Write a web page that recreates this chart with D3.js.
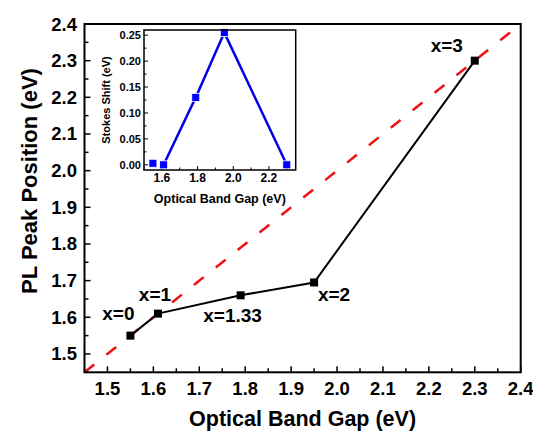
<!DOCTYPE html>
<html><head><meta charset="utf-8">
<script src="https://cdn.jsdelivr.net/npm/d3@7"></script>
<style>body{margin:0;background:#fff}text{font-family:"Liberation Sans",Arial,sans-serif;font-weight:bold}</style>
</head><body>
<svg id="c" width="533" height="432"></svg>
<script>
// main data
const bandGap = [1.55, 1.61, 1.79, 1.95, 2.30];
const plPeak = [1.55, 1.61, 1.66, 1.695, 2.30];
const labels = ["x=0", "x=1", "x=1.33", "x=2", "x=3"];
const xTicks = [1.5,1.6,1.7,1.8,1.9,2.0,2.1,2.2,2.3,2.4];
const yTicks = [1.5,1.6,1.7,1.8,1.9,2.0,2.1,2.2,2.3,2.4];
// inset data
const stokesShift = [0.003, 0.0, 0.13, 0.255, 0.0];
const insetXTicks = [1.6,1.8,2.0,2.2];
const insetYTicks = [0.00,0.05,0.10,0.15,0.20,0.25];

const svg = d3.select("#c");
const L=84.5, R=520.7, T=24, B=372.3;
const x = d3.scaleLinear().domain([1.45,2.4]).range([L,R]);
const y = d3.scaleLinear().domain([1.45,2.4]).range([B,T]);

// ticks
const g = svg.append("g");
const minorX = d3.range(1.45,2.4001,0.05);
g.selectAll(".tx").data(minorX).join("line")
  .attr("x1",d=>x(d)).attr("x2",d=>x(d)).attr("y1",B)
  .attr("y2",(d,i)=>B-(i%2===1?6:4)).attr("stroke","#000").attr("stroke-width",1.5);
g.selectAll(".ty").data(minorX).join("line")
  .attr("y1",d=>y(d)).attr("y2",d=>y(d)).attr("x1",L)
  .attr("x2",(d,i)=>L+(i%2===1?6:4)).attr("stroke","#000").attr("stroke-width",1.5);
g.selectAll(".lx").data(xTicks).join("text").attr("x",d=>x(d)).attr("y",394.5)
  .attr("text-anchor","middle").attr("font-size",18.5).text(d=>d.toFixed(1));
g.selectAll(".ly").data(yTicks).join("text").attr("x",77).attr("y",d=>y(d)+6.5)
  .attr("text-anchor","end").attr("font-size",18.5).text(d=>d.toFixed(1));

// dashed y=x
svg.append("line").attr("x1",x(1.45)).attr("y1",y(1.45)).attr("x2",x(2.4)).attr("y2",y(2.4))
  .attr("stroke","#ee1111").attr("stroke-width",2.5).attr("stroke-dasharray","12.5,15.5");

const pts = bandGap.map((d,i)=>[d,plPeak[i]]);
svg.append("path").attr("d",d3.line().x(d=>x(d[0])).y(d=>y(d[1]))(pts))
  .attr("fill","none").attr("stroke","#000").attr("stroke-width",2);
svg.selectAll(".m").data(pts).join("rect")
  .attr("x",d=>x(d[0])-4).attr("y",d=>y(d[1])-4).attr("width",8).attr("height",8).attr("fill","#000");

// point labels
const offs = [[-12,-22],[-3,-19],[-8,20],[20,12],[-28,-15]];
svg.selectAll(".pl").data(pts).join("text")
  .attr("x",(d,i)=>x(d[0])+offs[i][0]).attr("y",(d,i)=>y(d[1])+offs[i][1]+6.5)
  .attr("text-anchor","middle").attr("font-size",19).text((d,i)=>labels[i]);

// frame
svg.append("rect").attr("x",L).attr("y",T).attr("width",R-L).attr("height",B-T)
  .attr("fill","none").attr("stroke","#000").attr("stroke-width",2);

// axis titles
svg.append("text").attr("x",(L+R)/2).attr("y",426).attr("text-anchor","middle")
  .attr("font-size",21.5).text("Optical Band Gap (eV)");
svg.append("text").attr("transform","translate(37,181) rotate(-90)").attr("text-anchor","middle")
  .attr("font-size",22).text("PL Peak Position (eV)");

// inset
const iL=144, iR=295.7, iT=30, iB=170;
const ix = d3.scaleLinear().domain([1.5,2.35]).range([iL,iR]);
const iy = d3.scaleLinear().domain([-0.01,0.26]).range([iB,iT]);
svg.append("rect").attr("x",iL).attr("y",iT).attr("width",iR-iL).attr("height",iB-iT)
  .attr("fill","#fff").attr("stroke","none");
const ig = svg.append("g");
ig.selectAll(".itx").data(d3.range(1.5,2.3501,0.1)).join("line")
  .attr("x1",d=>ix(d)).attr("x2",d=>ix(d)).attr("y1",iB)
  .attr("y2",(d,i)=>iB-(i%2===1?4:2.5)).attr("stroke","#000").attr("stroke-width",1);
ig.selectAll(".ity").data(d3.range(0,0.2601,0.025)).join("line")
  .attr("y1",d=>iy(d)).attr("y2",d=>iy(d)).attr("x1",iL)
  .attr("x2",(d,i)=>iL+(i%2===0?4:2.5)).attr("stroke","#000").attr("stroke-width",1);
ig.selectAll(".ilx").data(insetXTicks).join("text").attr("x",d=>ix(d)).attr("y",181.5)
  .attr("text-anchor","middle").attr("font-size",12).text(d=>d.toFixed(1));
ig.selectAll(".ily").data(insetYTicks).join("text").attr("x",141).attr("y",d=>iy(d)+4)
  .attr("text-anchor","end").attr("font-size",11).text(d=>d.toFixed(2));
svg.append("text").attr("x",(iL+iR)/2).attr("y",202.5).attr("text-anchor","middle")
  .attr("font-size",12.5).text("Optical Band Gap (eV)");
svg.append("text").attr("transform","translate(110,100) rotate(-90)").attr("text-anchor","middle")
  .attr("font-size",11).text("Stokes Shift (eV)");
const ipts = bandGap.map((d,i)=>[d,stokesShift[i]]);
svg.append("path").attr("d",d3.line().x(d=>ix(d[0])).y(d=>iy(d[1]))(ipts.slice(1)))
  .attr("fill","none").attr("stroke","#0000ee").attr("stroke-width",2.5);
svg.selectAll(".im").data(ipts).join("rect")
  .attr("x",d=>ix(d[0])-4).attr("y",d=>iy(d[1])-4).attr("width",8).attr("height",8)
  .attr("fill","#0000ff").attr("stroke","#fff").attr("stroke-width",0.8);
svg.append("rect").attr("x",iL).attr("y",iT).attr("width",iR-iL).attr("height",iB-iT)
  .attr("fill","none").attr("stroke","#000").attr("stroke-width",1.5);
</script>
</body></html>
